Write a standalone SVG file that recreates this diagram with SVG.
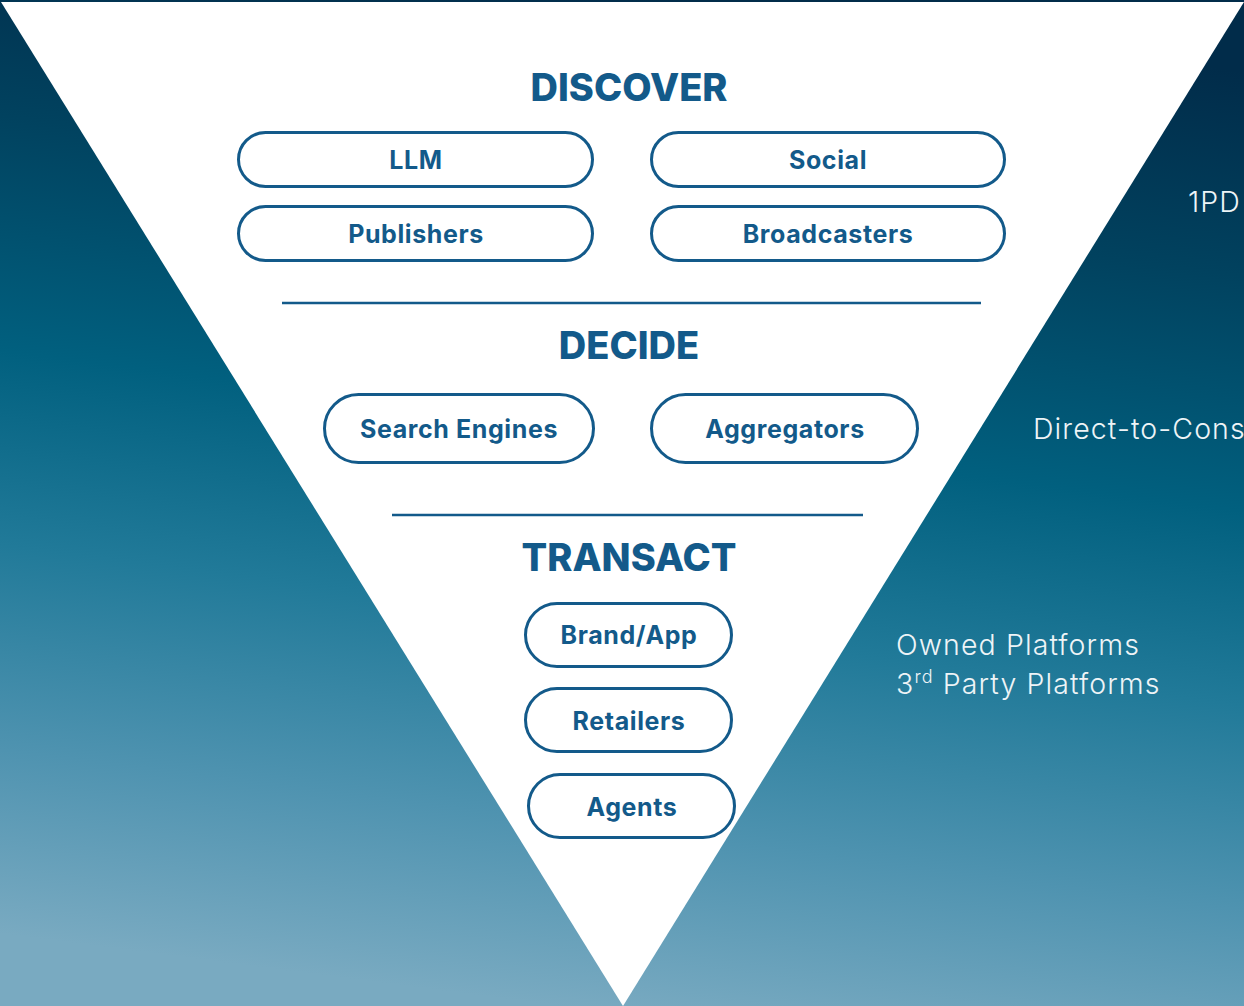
<svg xmlns="http://www.w3.org/2000/svg" width="1244" height="1006" viewBox="0 0 1244 1006">
  <defs>
    <linearGradient id="bg" gradientUnits="userSpaceOnUse" x1="690" y1="0" x2="560" y2="1006">
      <stop offset="0" stop-color="#012c4a"/>
      <stop offset="0.2" stop-color="#01425f"/>
      <stop offset="0.43" stop-color="#01607f"/>
      <stop offset="0.62" stop-color="#217a99"/>
      <stop offset="0.82" stop-color="#4f93b0"/>
      <stop offset="1" stop-color="#79aac1"/>
    </linearGradient>
    <style>
      .pill { fill: #ffffff; stroke: #135a8a; stroke-width: 3; }
      .label { font-family: Inter, "Liberation Sans", sans-serif; font-weight: 700; font-size: 25px; letter-spacing: 0.6px; fill: #135a8a; text-anchor: middle; }
      .stage { font-family: Inter, "Liberation Sans", sans-serif; font-weight: 800; font-size: 38px; fill: #135a8a; text-anchor: middle; }
      .rule { stroke: #135a8a; stroke-width: 2.5; }
      .side { font-family: Inter, "Liberation Sans", sans-serif; font-weight: 300; font-size: 28.5px; letter-spacing: 1.1px; fill: #eef4f7; }
    </style>
  </defs>

  <!-- backdrop and funnel -->
  <rect x="0" y="0" width="1244" height="1006" fill="url(#bg)"/>
  <polygon points="1,2 1244,2 623,1006" fill="#ffffff"/>

  <!-- stage headings -->
  <text class="stage" x="629" y="101">DISCOVER</text>
  <text class="stage" x="629" y="359">DECIDE</text>
  <text class="stage" x="629" y="571">TRANSACT</text>

  <!-- section dividers -->
  <g id="dividers">
    <line class="rule" x1="282" y1="303" x2="981" y2="303"/>
    <line class="rule" x1="392" y1="515" x2="863" y2="515"/>
  </g>

  <!-- discover -->
  <g id="llm">
    <rect class="pill" x="238.5" y="132.5" width="354" height="54" rx="27"/>
    <text class="label" x="416" y="169">LLM</text>
  </g>
  <g id="social">
    <rect class="pill" x="651.5" y="132.5" width="353" height="54" rx="27"/>
    <text class="label" x="828" y="169">Social</text>
  </g>
  <g id="publishers">
    <rect class="pill" x="238.5" y="206.5" width="354" height="54" rx="27"/>
    <text class="label" x="416" y="243">Publishers</text>
  </g>
  <g id="broadcasters">
    <rect class="pill" x="651.5" y="206.5" width="353" height="54" rx="27"/>
    <text class="label" x="828" y="243">Broadcasters</text>
  </g>

  <!-- decide -->
  <g id="search-engines">
    <rect class="pill" x="324.5" y="394.5" width="269" height="68" rx="34"/>
    <text class="label" x="459" y="438">Search Engines</text>
  </g>
  <g id="aggregators">
    <rect class="pill" x="651.5" y="394.5" width="266" height="68" rx="34"/>
    <text class="label" x="785" y="438">Aggregators</text>
  </g>

  <!-- transact -->
  <g id="brand-app">
    <rect class="pill" x="525.5" y="603.5" width="206" height="63" rx="31.5"/>
    <text class="label" x="629" y="644">Brand/App</text>
  </g>
  <g id="retailers">
    <rect class="pill" x="525.5" y="688.5" width="206" height="63" rx="31.5"/>
    <text class="label" x="629" y="730">Retailers</text>
  </g>
  <g id="agents">
    <rect class="pill" x="528.5" y="774.5" width="206" height="63" rx="31.5"/>
    <text class="label" x="632" y="816">Agents</text>
  </g>

  <!-- side annotations -->
  <g id="side-notes">
    <text class="side" x="1188" y="212">1PD</text>
    <text class="side" x="1033" y="439">Direct-to-Cons</text>
    <text class="side" x="896" y="655">Owned Platforms</text>
    <text class="side" x="896" y="694">3<tspan font-size="18" dy="-11">rd</tspan><tspan dy="11"> Party Platforms</tspan></text>
  </g>
</svg>
